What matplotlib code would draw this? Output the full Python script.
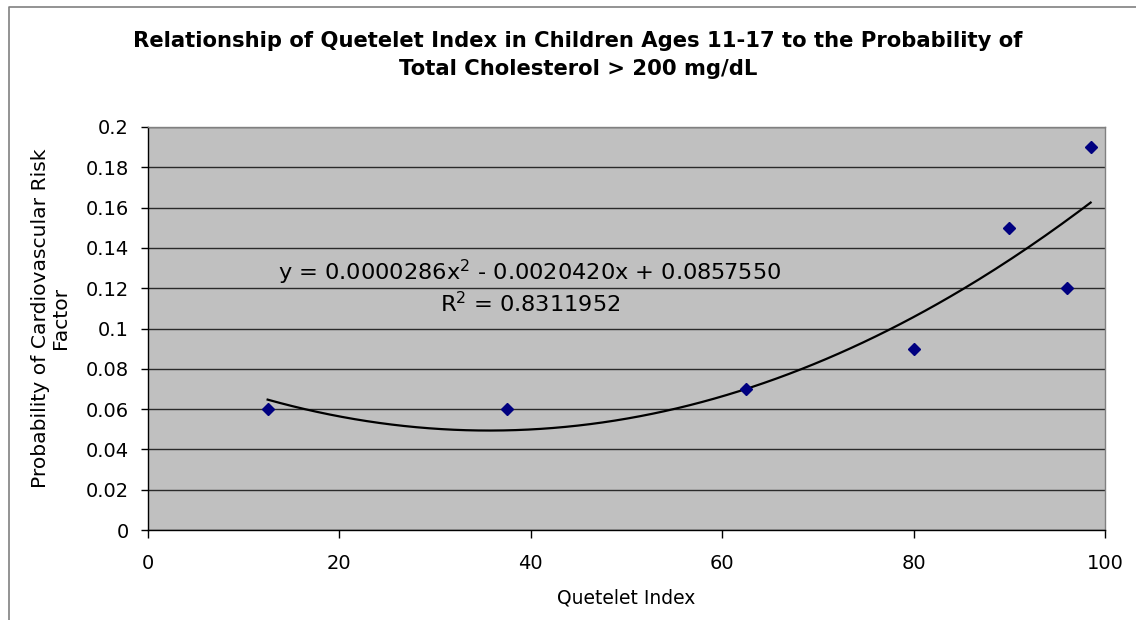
import numpy as np
import matplotlib
matplotlib.use("Agg")
from matplotlib import pyplot as plt
from matplotlib.lines import Line2D

# data
quetelet = [12.5, 37.5, 62.5, 80, 90, 96, 98.5]
prob = [0.06, 0.06, 0.07, 0.09, 0.15, 0.12, 0.19]
eq_text = "y = 0.0000286x$^{2}$ - 0.0020420x + 0.0857550"
r2_text = "R$^{2}$ = 0.8311952"
title1 = "Relationship of Quetelet Index in Children Ages 11-17 to the Probability of"
title2 = "Total Cholesterol > 200 mg/dL"

plt.rcParams['font.family'] = ['DejaVu Sans']
plt.rcParams['mathtext.default'] = 'regular'

W, H = 1136, 620
def fx(px):
    return px / W
def fy(py):
    return 1 - py / H

fig = plt.figure(figsize=(W/100, H/100), dpi=100)
fig.patch.set_facecolor("white")

ax = fig.add_axes([fx(148), fy(530), (1105-148)/W, (530-127)/H])
ax.set_facecolor("#C0C0C0")

# polynomial trendline (order 2) fitted to the points
coef = np.polyfit(quetelet, prob, 2)
xs = np.linspace(min(quetelet), max(quetelet), 200)
ax.plot(xs, np.polyval(coef, xs), color="black", lw=1.6, zorder=3)

ax.plot(quetelet, prob, linestyle="none", marker="D", ms=6.5,
        color="#000080", zorder=4)

ax.set_xlim(0, 100)
ax.set_ylim(0, 0.2)
ax.set_xticks(np.arange(0, 101, 20))
ax.set_yticks(np.arange(0, 0.201, 0.02))
ax.set_yticklabels(["0", "0.02", "0.04", "0.06", "0.08", "0.1", "0.12",
                    "0.14", "0.16", "0.18", "0.2"])
ax.grid(axis="y", color="#2a2a2a", lw=1)
ax.set_axisbelow(True)
ax.tick_params(labelsize=14, width=1, color="black", direction="out")
ax.tick_params(axis="y", length=5, pad=9)
ax.tick_params(axis="x", length=6, pad=11)

for s in ["left", "bottom"]:
    ax.spines[s].set_color("black")
    ax.spines[s].set_linewidth(1)
for s in ["top", "right"]:
    ax.spines[s].set_color("#808080")
    ax.spines[s].set_linewidth(1)

# trendline label
fig.text(fx(530), fy(280), eq_text, fontsize=16.2, ha="center", va="baseline")
fig.text(fx(530), fy(312), r2_text, fontsize=16.2, ha="center", va="baseline")

fig.text(fx(578), fy(47), title1, fontsize=15.2, fontweight="bold",
         ha="center", va="baseline")
fig.text(fx(578), fy(75), title2, fontsize=15.2, fontweight="bold",
         ha="center", va="baseline")
fig.text(fx(626), fy(603), "Quetelet Index", fontsize=13.5, ha="center", va="baseline")
fig.text(fx(50.5), fy(318), "Probability of Cardiovascular Risk\nFactor", fontsize=14.6,
         rotation=90, ha="center", va="center", linespacing=1.0)

# outer chart border (runs off the right and bottom of the picture)
fig.add_artist(Line2D([fx(8.5), fx(8.5), 1.0], [0.0, fy(6.5), fy(6.5)],
                      transform=fig.transFigure, color="#808080", lw=1.2))

fig.savefig("out.png", dpi=100)
